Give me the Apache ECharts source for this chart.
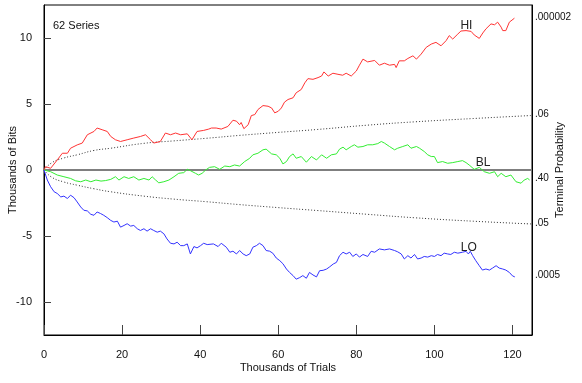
<!DOCTYPE html>
<html>
<head>
<meta charset="utf-8">
<script src="https://cdn.jsdelivr.net/npm/echarts@6/dist/echarts.min.js"></script>
<style>
html,body{margin:0;padding:0;background:#fff;}
#chart{width:582px;height:383px;}
</style>
</head>
<body>
<div id="chart"></div>
<script>
// Series values: [thousands of trials, thousands of bits]
const hiSeries = [[0,0],[0.4,0.25],[1.7,0.13],[3.4,0.76],[4.7,1.27],[6,1.27],[6.8,1.65],[8.5,1.9],[9.8,2.04],[11.1,2.67],[12.8,2.92],[13.6,3.18],[14.9,3.05],[16.2,2.92],[17.1,2.54],[18.3,2.29],[19.6,2.16],[21.3,2.29],[23,2.42],[24.7,2.54],[26,2.67],[27.3,2.29],[28.1,2.04],[29.8,2.16],[31.1,2.8],[32.4,2.67],[33.7,2.8],[35,2.67],[36.7,2.74],[37.9,2.29],[39.2,2.92],[40.9,3.0],[42.2,3.1],[42.9,3.18],[44.1,3.18],[45.4,3.1],[47.1,3.3],[48.4,3.77],[49.3,3.7],[50.1,3.43],[50.5,3.6],[51.2,3.13],[52.3,3.43],[53.1,4.12],[54,4.2],[54.8,4.58],[56.1,4.88],[57.4,4.83],[58.3,4.7],[59.1,4.33],[60,4.45],[60.8,4.7],[61.6,5.14],[62.5,5.34],[63.8,5.47],[64.6,5.85],[65.9,6.1],[66.8,6.6],[67.6,6.92],[68.9,6.87],[70.2,7.0],[71.1,7.12],[71.7,7.43],[72.8,7.12],[74,7.33],[75.3,7.25],[76.5,7.18],[77.4,7.33],[78.7,7.12],[80,7.5],[80.8,7.94],[81.7,8.4],[82.9,8.19],[83.4,8.27],[84.7,8.3],[85.9,7.94],[87.2,8.09],[88.5,7.94],[89.8,8.0],[90.2,7.76],[91.0,8.27],[92.3,8.27],[93.2,8.45],[94.5,8.65],[95.4,8.4],[96.6,8.78],[97.9,9.29],[99.2,9.54],[100.4,9.67],[101.7,9.41],[103,9.8],[103.8,10.18],[104.7,9.92],[106,10.3],[106.8,10.53],[108.1,10.56],[109.4,10.5],[110.2,10.23],[111.5,9.97],[112.4,10.38],[113.2,10.69],[114.5,11.07],[115.4,11.0],[116.2,11.2],[117.1,10.82],[117.5,10.56],[118.3,10.56],[119.2,11.2],[119.6,11.25],[120.5,11.5]];

const blSeries = [[0,0],[0.4,-0.07],[1.7,-0.13],[3.4,-0.38],[5.1,-0.51],[6.8,-0.64],[8.1,-0.82],[9.4,-0.89],[10.7,-0.76],[12,-0.89],[13.3,-0.76],[14.6,-0.84],[15.8,-0.8],[17.1,-0.71],[18.3,-0.51],[19.2,-0.76],[20.5,-0.51],[21.7,-0.64],[23,-0.51],[24.3,-0.76],[25.6,-0.64],[26.9,-0.76],[27.7,-0.51],[28.6,-0.76],[29.4,-0.97],[30.7,-0.89],[32,-0.76],[33.3,-0.51],[34.5,-0.25],[35.8,-0.2],[36.7,0.05],[37.5,-0.05],[38.8,-0.25],[39.6,-0.38],[40.5,-0.25],[41.4,0],[42.4,0.2],[43.7,0.25],[45,0.05],[46.3,0.3],[47.6,0.25],[48.8,0.38],[50.1,0.3],[51.4,0.64],[52.7,0.89],[53.5,1.15],[54.8,1.27],[56.1,1.53],[56.9,1.58],[58.3,1.22],[59.5,1.15],[60.4,0.89],[61.2,0.46],[62.1,0.64],[62.9,1.02],[63.8,1.22],[64.6,0.89],[65.9,1.02],[67.2,0.59],[68.5,1.02],[69.8,0.76],[71.1,1.15],[72.4,0.89],[73.6,1.15],[74.9,1.22],[75.7,1.58],[76.6,1.73],[77.4,1.53],[78.7,1.78],[79.5,1.91],[80.4,1.73],[81.7,1.78],[82.9,1.91],[83.4,2.04],[84.2,1.91],[85.5,2.0],[86.4,2.16],[87.2,2.04],[88.5,1.78],[89.8,1.53],[90.6,1.65],[91.9,1.78],[93.2,1.91],[94,1.65],[95.4,1.78],[96.2,1.65],[97.4,1.4],[98.3,1.15],[99.2,1.02],[100,1.02],[100.8,0.56],[102.1,0.64],[103.4,0.51],[104.7,0.56],[106,0.64],[107.2,0.71],[108.1,0.56],[108.9,0.38],[110.2,0.05],[111.5,0.2],[112.8,-0.13],[114.1,-0.25],[115.4,-0.13],[116.2,-0.51],[117.1,-0.25],[118.3,-0.51],[119.6,-0.38],[120.9,-0.89],[122.2,-1.0],[123,-0.76],[123.9,-0.64],[124.4,-0.76]];

const loSeries = [[0,0],[0.25,-0.13],[0.85,-0.76],[1.7,-1.27],[2.6,-1.65],[3.4,-1.78],[4.3,-2.04],[5.1,-1.98],[6,-2.16],[6.8,-1.91],[7.7,-2.1],[8.5,-2.42],[9.4,-2.8],[10.2,-3.05],[11.1,-3.1],[12,-3.36],[12.8,-3.43],[13.6,-3.18],[14.5,-3.3],[15.3,-3.43],[16.2,-3.61],[17.1,-3.82],[17.9,-3.94],[18.8,-3.88],[19.6,-4.33],[20.5,-4.2],[21.3,-4.07],[22.2,-4.25],[23,-4.2],[23.9,-4.45],[24.7,-4.58],[25.6,-4.45],[26.4,-4.63],[27.3,-4.45],[28.1,-4.58],[29,-4.71],[29.8,-4.63],[30.7,-4.83],[31.5,-5.22],[32.4,-5.55],[33.3,-5.6],[34.1,-5.47],[35,-5.73],[35.8,-5.73],[36.7,-5.6],[37.5,-6.36],[38.4,-5.8],[39.2,-5.9],[40.1,-5.73],[40.9,-5.55],[41.8,-5.65],[43.4,-5.6],[44.6,-5.8],[45.4,-5.55],[46.7,-5.85],[47.6,-6.23],[48.4,-6.15],[49.3,-6.36],[50.1,-6.1],[51,-6.36],[51.8,-6.49],[52.7,-6.36],[53.5,-5.85],[54.4,-5.73],[55.2,-5.55],[56.1,-5.73],[56.9,-6.1],[57.8,-6.15],[58.6,-6.3],[59.5,-6.67],[60.4,-6.87],[61.2,-7.1],[62.1,-7.5],[62.9,-7.76],[63.8,-8.0],[64.6,-8.27],[65.5,-8.15],[66.3,-8.0],[67.2,-8.2],[68,-7.76],[68.9,-7.95],[69.8,-8.1],[70.6,-7.63],[71.5,-7.6],[72.4,-7.5],[73.2,-7.33],[74.1,-7.12],[74.9,-7.0],[75.7,-6.49],[76.6,-6.23],[77.4,-6.36],[78.3,-6.23],[79.1,-6.55],[80,-6.36],[80.8,-6.6],[81.7,-6.4],[82.9,-6.55],[83.8,-6.16],[84.7,-6.23],[85.9,-5.98],[87.2,-6.05],[88.5,-5.98],[89.8,-6.1],[90.6,-6.2],[91.5,-6.36],[92.3,-6.74],[93.2,-6.49],[94,-6.67],[94.9,-6.4],[95.7,-6.74],[96.6,-6.67],[97.4,-6.55],[98.3,-6.6],[99.2,-6.49],[100,-6.55],[100.8,-6.4],[101.7,-6.49],[102.5,-6.3],[103.4,-6.36],[104.2,-6.4],[105.1,-6.23],[106,-6.3],[107.2,-6.23],[108.1,-6.16],[108.7,-6.36],[109.2,-6.16],[109.8,-6.49],[110.6,-6.87],[111.5,-7.25],[112.3,-7.58],[113.2,-7.5],[114.1,-7.58],[114.9,-7.43],[115.8,-7.25],[116.6,-7.43],[117.5,-7.5],[118.3,-7.58],[119.2,-7.76],[120,-8.02],[120.6,-8.1]];

// Dotted significance envelope
const boundX     = [0, 2, 5, 8.5, 12.8, 17.1, 25.6, 33, 41.5, 50, 60, 70, 83, 95, 110, 125];
const boundUpper = [0, 0.55, 0.9, 1.15, 1.48, 1.65, 2.02, 2.2, 2.4, 2.62, 2.85, 3.07, 3.4, 3.65, 3.9, 4.13];
const boundLower = [0, -0.55, -0.9, -1.15, -1.42, -1.65, -1.98, -2.2, -2.4, -2.62, -2.85, -3.07, -3.36, -3.62, -3.88, -4.09];

// Axis ticks
const xTicks = [0, 20, 40, 60, 80, 100, 120];
const yTicks = [-10, -5, 0, 5, 10];
const probLevels = [11.56, 4.2, -0.61, -4.07, -8.0];
const probLabels = ['.000002', '.06', '.40', '.05', '.0005'];

const seriesNames = ['HI', 'BL', 'LO'];
const seriesColors = ['#ff3333', '#33ee33', '#3333ff'];

const FONT = 'Liberation Sans, Arial, sans-serif';
const chart = echarts.init(document.getElementById('chart'), null, {renderer: 'canvas'});

const upperData = boundX.map((x, i) => [x, boundUpper[i]]);
const lowerData = boundX.map((x, i) => [x, boundLower[i]]);

function traceSeries(name, data, color, labelAt) {
  return {
    name: name, type: 'line', data: data, showSymbol: false, symbol: 'none',
    lineStyle: {color: color, width: 1}, z: 5, animation: false,
    markPoint: {
      symbol: 'circle', symbolSize: 0,
      label: {show: true, position: 'inside', color: '#222', fontSize: 12, fontFamily: FONT, formatter: name},
      data: [{coord: labelAt, value: name}]
    }
  };
}

const option = {
  backgroundColor: '#fff',
  animation: false,
  title: {
    text: '62 Series', left: 48, top: 15,
    textStyle: {fontSize: 11, fontWeight: 'normal', color: '#111', fontFamily: FONT}
  },
  grid: {left: 44, right: 50, top: 5, bottom: 48, containLabel: false, outerBoundsMode: 'none',
         show: true, borderColor: '#000', borderWidth: 1, backgroundColor: 'transparent'},
  xAxis: {
    type: 'value', min: 0, max: 125,
    name: 'Thousands of Trials', nameLocation: 'middle', nameGap: 27, nameMoveOverlap: false,
    nameTextStyle: {fontSize: 11, color: '#111', fontFamily: FONT},
    axisLine: {show: true, onZero: false, lineStyle: {color: '#000', width: 1}},
    axisTick: {show: true, inside: true, length: 10, lineStyle: {color: '#444', width: 1}, customValues: xTicks},
    axisLabel: {customValues: xTicks, fontSize: 11, color: '#111', fontFamily: FONT, margin: 14},
    splitLine: {show: false}
  },
  yAxis: [{
    type: 'value', min: -12.5, max: 12.5, position: 'left',
    name: 'Thousands of Bits', nameLocation: 'middle', nameGap: 26, nameRotate: 90, nameMoveOverlap: false,
    nameTextStyle: {fontSize: 11, color: '#111', fontFamily: FONT},
    axisLine: {show: true, onZero: false, lineStyle: {color: '#000', width: 1}},
    axisTick: {show: true, inside: true, length: 7, lineStyle: {color: '#444', width: 1}, customValues: yTicks},
    axisLabel: {customValues: yTicks, fontSize: 11, color: '#111', fontFamily: FONT, margin: 12},
    splitLine: {show: false}
  }, {
    type: 'value', min: -12.5, max: 12.5, position: 'right',
    name: 'Terminal Probability', nameLocation: 'middle', nameGap: 22, nameRotate: 90, nameMoveOverlap: false,
    nameTextStyle: {fontSize: 11, color: '#111', fontFamily: FONT},
    axisLine: {show: true, onZero: false, lineStyle: {color: '#000', width: 1}},
    axisTick: {show: false},
    axisLabel: {
      customValues: probLevels, fontSize: 10, color: '#111', fontFamily: FONT, margin: 3,
      formatter: function (v) { const i = probLevels.findIndex(p => Math.abs(p - v) < 1e-6); return i >= 0 ? probLabels[i] : ''; }
    },
    splitLine: {show: false}
  }],
  series: [
    {
      name: 'zero', type: 'line', data: [[0, 0], [125, 0]], showSymbol: false, symbol: 'none',
      lineStyle: {color: '#7f7f7f', width: 2}, z: 2
    },
    {
      name: 'upper', type: 'line', data: upperData, smooth: true, showSymbol: false, symbol: 'none',
      lineStyle: {color: '#333', width: 1, type: [1, 2]}, z: 3
    },
    {
      name: 'lower', type: 'line', data: lowerData, smooth: true, showSymbol: false, symbol: 'none',
      lineStyle: {color: '#333', width: 1, type: [1, 2]}, z: 3
    },
    traceSeries(seriesNames[0], hiSeries, seriesColors[0], [108.2, 10.9]),
    traceSeries(seriesNames[1], blSeries, seriesColors[1], [112.5, 0.57]),
    traceSeries(seriesNames[2], loSeries, seriesColors[2], [108.8, -5.88])
  ]
};
chart.setOption(option);
</script>
</body>
</html>
